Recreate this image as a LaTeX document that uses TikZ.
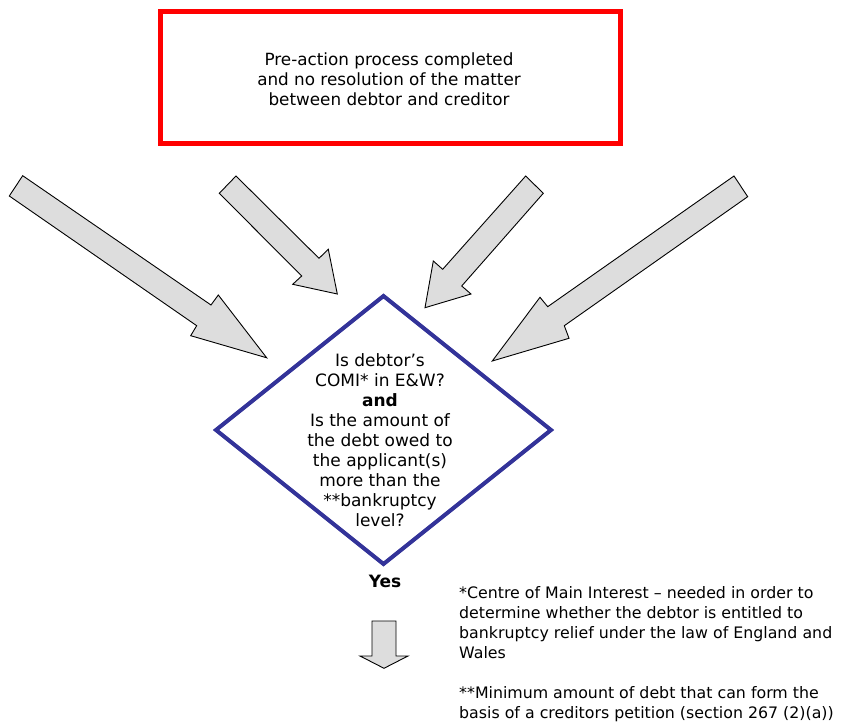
\documentclass[tikz,border=0pt]{standalone}
\usepackage{fontspec}
\setmainfont{DejaVu Sans}
\usetikzlibrary{shapes.geometric}
\definecolor{boxred}{HTML}{FF0000}
\definecolor{decblue}{HTML}{333399}
\definecolor{arrowgray}{HTML}{DDDDDD}
\begin{document}
\begin{tikzpicture}[x=1pt,y=-1pt,
  txt/.style={font=\fontsize{16.8}{20}\selectfont, align=center, inner sep=0pt},
  blockarrow/.style={draw=black, line width=0.9pt, fill=arrowgray, line join=miter}]
\useasboundingbox (0,0) rectangle (868,722);

% start box
\node[draw=boxred, line width=5pt, minimum width=460pt, minimum height=132pt,
      inner sep=0pt] (start) at (390.5,77.5) {};
\node[txt] (starttext) at (389,79)
  {Pre-action process completed\\and no resolution of the matter\\ between debtor and creditor};

% decision diamond
\coordinate (dt) at (383.5,296);
\coordinate (dr) at (551,430);
\coordinate (db) at (383.5,564);
\coordinate (dl) at (216,430);
\draw[decblue, line width=4pt, line join=miter] (dt) -- (dr) -- (db) -- (dl) -- cycle;
\node[txt, font=\fontsize{17}{20}\selectfont] (question) at (380,440)
  {Is debtor’s\\COMI* in E\&W?\\\textbf{and}\\Is the amount of\\the debt owed to\\the applicant(s)\\more than the\\**bankruptcy\\level?};

% four block arrows pointing at the decision
\draw[blockarrow] (22.7,175.7) -- (211,305) -- (218.3,295) -- (266.7,357.8)
  -- (190.7,335.7) -- (196.7,325.7) -- (9.3,196) -- cycle;
\draw[blockarrow] (236,176) -- (319,258.3) -- (328.3,249.3) -- (337.3,294)
  -- (292.7,284.3) -- (301.7,276) -- (219.3,193.3) -- cycle;
\draw[blockarrow] (525.7,176) -- (543.3,193.3) -- (461.7,286) -- (471,294)
  -- (425,307.7) -- (433.3,261) -- (442.7,269.3) -- cycle;
\draw[blockarrow] (734,176) -- (747.7,196.7) -- (564.3,325.7) -- (569,338.3)
  -- (492.3,361) -- (540,297.3) -- (547.7,306.7) -- cycle;

% outcome
\node[txt, font=\fontsize{17}{20}\selectfont\bfseries] (yes) at (385,581) {Yes};
\draw[blockarrow] (372,621) -- (396,621) -- (396,656) -- (408,656) -- (384,668.3)
  -- (360,656) -- (372,656) -- cycle;

% footnotes
\node[txt, font=\fontsize{15.8}{20}\selectfont, align=left, anchor=north west] (notes) at (459,586)
  {*Centre of Main Interest – needed in order to\\determine whether the debtor is entitled to\\bankruptcy relief under the law of England and\\Wales\\[20pt]**Minimum amount of debt that can form the\\basis of a creditors petition (section 267 (2)(a))};
\end{tikzpicture}
\end{document}
